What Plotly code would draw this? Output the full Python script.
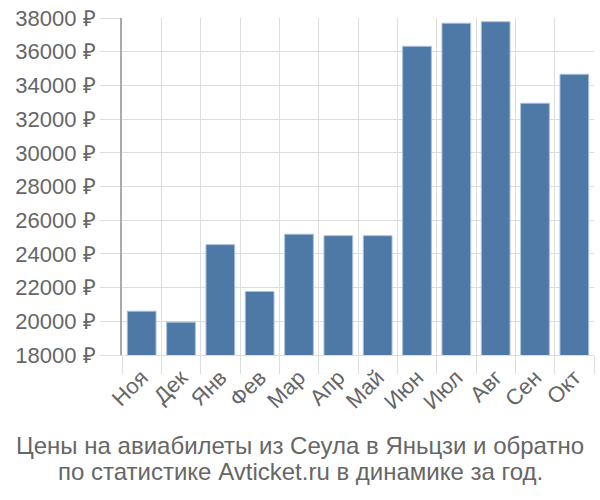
import plotly.graph_objects as go

months = ["Ноя", "Дек", "Янв", "Фев", "Мар", "Апр", "Май", "Июн", "Июл", "Авг", "Сен", "Окт"]
prices = [20600, 19950, 24550, 21770, 25170, 25080, 25080, 36320, 37690, 37780, 32940, 34660]
y_ticks = list(range(18000, 38001, 2000))
y_labels = [f"{v} ₽" for v in y_ticks]
title_lines = ["Цены на авиабилеты из Сеула в Яньцзи и обратно",
               "по статистике Avticket.ru в динамике за год."]

fig = go.Figure(go.Bar(
    x=months, y=prices,
    marker=dict(color="#4e79a7", line=dict(color="#a9c0dc", width=1)),
))

plot_h = 500 - 14 - 145
title_y_px = [447, 473]
fig.update_layout(
    width=600, height=500,
    margin=dict(l=122, r=6, t=14, b=145),
    paper_bgcolor="white", plot_bgcolor="white",
    font=dict(family="Liberation Sans, Arial, sans-serif", color="#666666", size=22),
    bargap=0.27,
    showlegend=False,
    annotations=[dict(text=line, x=(300 - 122) / 472, xref="paper", xanchor="center",
                      y=(355 - py) / plot_h, yref="paper", yanchor="middle", showarrow=False,
                      font=dict(size=24, color="#666666"))
                 for line, py in zip(title_lines, title_y_px)],
)
fig.update_xaxes(
    type="category", tickson="boundaries", tickangle=-45,
    showgrid=True, gridcolor="#dddddd", gridwidth=1,
    ticks="outside", ticklen=18, tickcolor="#dddddd",
    showline=True, linecolor="#dddddd", linewidth=1,
    tickfont=dict(size=22, color="#666666"),
    range=[-0.5, 11.5],
)
fig.update_yaxes(
    range=[18000, 38000], tickvals=y_ticks, ticktext=y_labels,
    showgrid=True, gridcolor="#dddddd", gridwidth=1,
    ticks="outside", ticklen=20, tickcolor="#dddddd",
    showline=True, linecolor="#aaaaaa", linewidth=2,
    tickfont=dict(size=22, color="#666666"),
    zeroline=False,
)
fig.write_html("out.html")
